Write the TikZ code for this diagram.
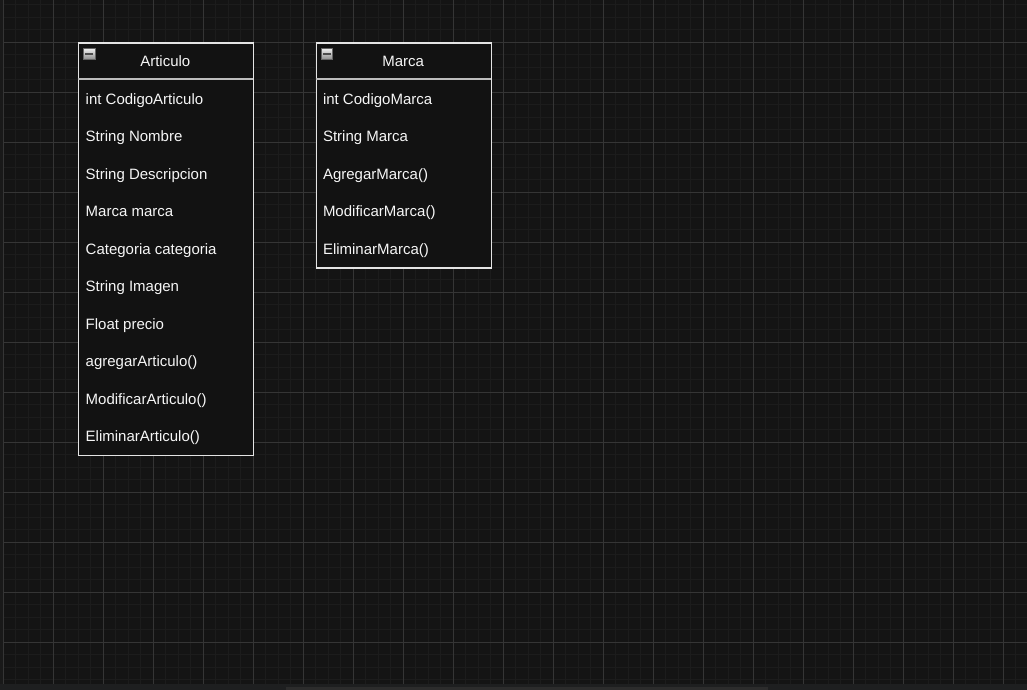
\documentclass[tikz,border=0pt]{standalone}
\usepackage{fontspec}
\setmainfont{Liberation Sans}
\begin{document}
\definecolor{canvas}{HTML}{141414}
\definecolor{gridminor}{HTML}{1C1C1C}
\definecolor{gridmajor}{HTML}{353535}
\definecolor{edge}{HTML}{E4E4E4}
\definecolor{sep}{HTML}{BDBDBD}
\definecolor{boxfill}{HTML}{121212}
\definecolor{barbg}{HTML}{1E1F20}
\definecolor{thumb}{HTML}{2C2C2C}
\definecolor{txt}{HTML}{F6F6F6}
\tikzset{
  classbox/.style={draw=edge, line width=1.3pt, fill=boxfill, anchor=north west,
    inner sep=0pt, minimum width=175.3pt},
  headsep/.style={draw=sep, line width=2pt},
  member/.style={anchor=base west, inner sep=0pt, text=txt,
    font=\fontsize{15}{18}\selectfont},
  title/.style={anchor=base, inner sep=0pt, text=txt,
    font=\fontsize{15}{18}\selectfont},
  minusbox/.style={draw=black!60, line width=0.8pt, top color=black!5,
    bottom color=black!45, minimum size=11.5pt, inner sep=0pt,
    path picture={\fill[black!70] ([xshift=2pt,yshift=-1pt]path picture bounding box.west)
      rectangle ([xshift=-2pt,yshift=1pt]path picture bounding box.east);}},
}
\begin{tikzpicture}[x=1pt,y=-1pt]
\useasboundingbox (0,0) rectangle (1027,690);
% canvas and grid
\fill[canvas] (0,0) rectangle (1027,690);
\fill[black!90] (0,0) rectangle (3,684);
\foreach \k in {0,...,82} {
  \draw[gridminor, line width=1pt] ({3.3+12.5*\k},0) -- ({3.3+12.5*\k},684);
}
\foreach \k in {0,...,54} {
  \draw[gridminor, line width=1pt] (3,{4.8+12.5*\k}) -- (1027,{4.8+12.5*\k});
}
\foreach \k in {0,...,20} {
  \draw[gridmajor, line width=1pt] ({3.3+50*\k},0) -- ({3.3+50*\k},684);
}
\foreach \k in {0,...,12} {
  \draw[gridmajor, line width=1pt] (3,{42.3+50*\k}) -- (1027,{42.3+50*\k});
}
% bottom scroll bar
\fill[barbg] (0,684) rectangle (1027,690);
\fill[thumb] (286,687) rectangle (768,690);

% class Articulo
\node[classbox, minimum height=412pt] (art) at (77.7,42.5) {};
\draw[headsep] (77.7,79.5) -- (253,79.5);
\node[minusbox] (artmin) at (89.2,53.8) {};
\node[title] (arttitle) at (165.3,66.3) {Articulo};
\foreach \t [count=\i from 0] in {int CodigoArticulo, String Nombre, String Descripcion,
    Marca marca, Categoria categoria, String Imagen, Float precio,
    agregarArticulo(), ModificarArticulo(), EliminarArticulo()} {
  \node[member] (artm\i) at (85.5,{104.3+37.5*\i}) {\t};
}

% class Marca
\node[classbox, minimum height=224.8pt] (mar) at (315.5,42.5) {};
\draw[headsep] (315.5,79.5) -- (490.8,79.5);
\node[minusbox] (marmin) at (327,53.8) {};
\node[title] (martitle) at (403.1,66.3) {Marca};
\foreach \t [count=\i from 0] in {int CodigoMarca, String Marca, AgregarMarca(),
    ModificarMarca(), EliminarMarca()} {
  \node[member] (marm\i) at (322.8,{104.3+37.5*\i}) {\t};
}
\end{tikzpicture}
\end{document}
